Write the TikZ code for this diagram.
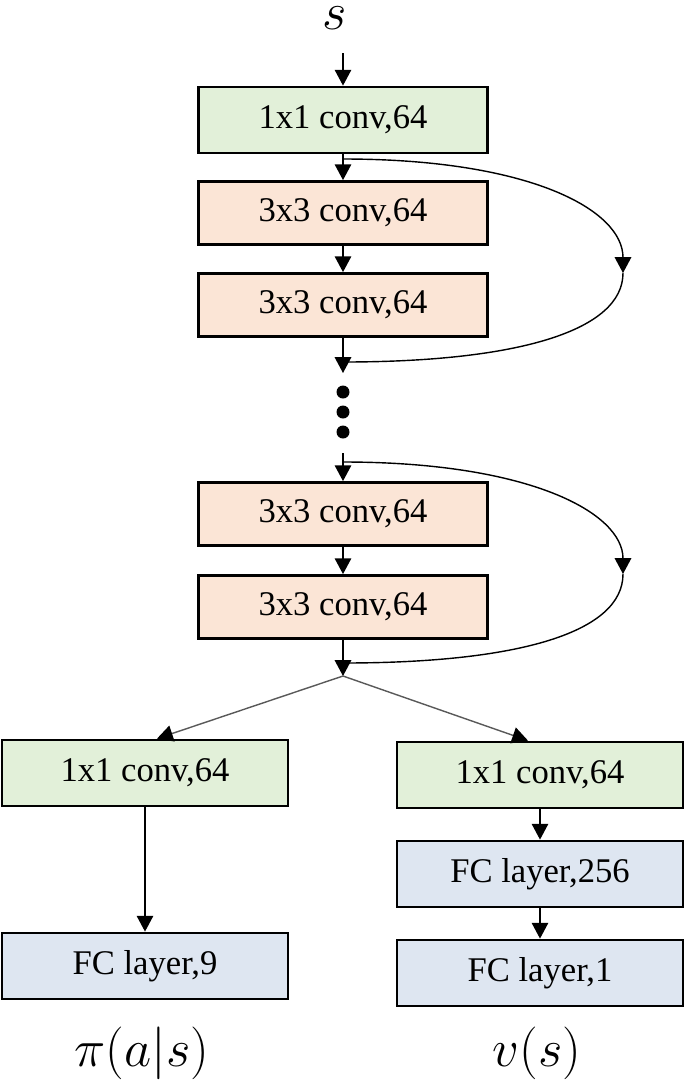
\documentclass[tikz,border=0pt]{standalone}
\usepackage{fix-cm}
\usepackage{fontspec}
\setmainfont{Liberation Serif}
\usetikzlibrary{arrows.meta}
\definecolor{convgreen}{HTML}{E2F0D9}
\definecolor{convpeach}{HTML}{FBE5D6}
\definecolor{fcblue}{HTML}{DEE6F1}

\begin{document}
\begin{tikzpicture}[x=0.02cm,y=-0.02cm,
		layer/.style={draw=black,line width=1.6pt,minimum width=5.78cm,minimum height=1.26cm,inner sep=0pt,font=\fontsize{19.7}{24}\selectfont},
		headlayer/.style={layer,minimum width=5.72cm,minimum height=1.32cm},
		arr/.style={-{Triangle[width=9.4pt,length=9pt]},line width=0.8pt},
		skipline/.style={line width=0.8pt},
		branch/.style={arr,draw=black!65,-{Triangle[width=9.4pt,length=9pt,black]}},
		outlabel/.style={inner sep=0pt,font=\fontsize{30}{36}\selectfont}]
			\useasboundingbox (0,0) rectangle (685,1080);
			% input
			\node (s) at (335,18) [outlabel] {$s$};
			\coordinate (in) at (343,53);
			% trunk
			\node (b1) at (343,120) [layer,fill=convgreen,minimum height=1.32cm] {1x1 conv,64};
			\node (b2) at (343,213) [layer,fill=convpeach] {3x3 conv,64};
			\node (b3) at (343,305) [layer,fill=convpeach] {3x3 conv,64};
			\node (b4) at (343,514) [layer,fill=convpeach] {3x3 conv,64};
			\node (b5) at (343,607) [layer,fill=convpeach] {3x3 conv,64};
			\coordinate (j1) at (343,373);
			\coordinate (j2) at (343,453);
			\coordinate (j3) at (343,676);
			\draw [arr] (in) -- (b1.north);
			\draw [arr] (b1.south) -- (b2.north);
			\draw [arr] (b2.south) -- (b3.north);
			\draw [arr] (b3.south) -- (j1);
			\foreach \y in {392,412,432}
				\fill (343,\y) circle (0.13cm);
			\draw [arr] (j2) -- (b4.north);
			\draw [arr] (b4.south) -- (b5.north);
			\draw [arr] (b5.south) -- (j3);
			% skip connections
			\coordinate (k1) at (343,159);
			\coordinate (m1) at (623,273);
			\coordinate (e1) at (343,362);
			\draw [arr,skipline] (k1) .. controls (530,159) and (623,210) .. (m1);
			\draw [skipline] (m1) .. controls (623,330) and (520,362) .. (e1);
			\coordinate (k2) at (343,462);
			\coordinate (m2) at (623,574);
			\coordinate (e2) at (343,663);
			\draw [arr,skipline] (k2) .. controls (530,462) and (623,513) .. (m2);
			\draw [skipline] (m2) .. controls (623,632) and (520,663) .. (e2);
			% heads
			\node (p1) at (145,773) [headlayer,fill=convgreen] {1x1 conv,64};
			\node (p2) at (145,966) [headlayer,fill=fcblue] {FC layer,9};
			\node (v1) at (540,775) [headlayer,fill=convgreen] {1x1 conv,64};
			\node (v2) at (540,874) [headlayer,fill=fcblue] {FC layer,256};
			\node (v3) at (540,973) [headlayer,fill=fcblue] {FC layer,1};
			\draw [branch] (j3) -- ([xshift=0.24cm]p1.north);
			\draw [branch] (j3) -- ([xshift=-0.24cm]v1.north);
			\draw [arr] (p1.south) -- (p2.north);
			\draw [arr] (v1.south) -- (v2.north);
			\draw [arr] (v2.south) -- (v3.north);
			\node (pi) at (142,1053) [outlabel] {$\pi(a|s)$};
			\node (v) at (537,1053) [outlabel] {$v(s)$};
		\end{tikzpicture}
\end{document}
